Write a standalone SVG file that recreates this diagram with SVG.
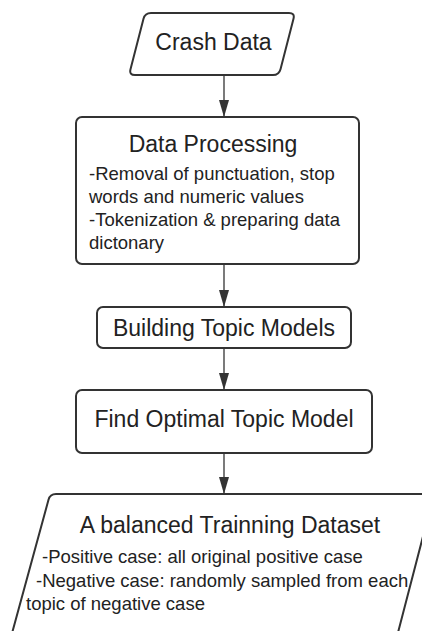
<svg xmlns="http://www.w3.org/2000/svg" width="422" height="631" viewBox="0 0 422 631">
<defs>
<style>
.shape{fill:#fff;stroke:#333;stroke-width:2;}
.t{font-family:"Liberation Sans",Arial,sans-serif;fill:#222;}
.title{font-size:23px;text-anchor:middle;}
.body{font-size:18.5px;}
.conn{stroke:#333;stroke-width:1.3;fill:none;marker-end:url(#arrow);}
</style>
<marker id="arrow" viewBox="0 0 17 10" refX="17" refY="5" markerWidth="17" markerHeight="10" markerUnits="userSpaceOnUse" orient="auto">
<path d="M0,0 L17,5 L0,10 z" fill="#333"/>
</marker>
</defs>
<rect width="422" height="631" fill="#fff"/>
<g id="connectors">
<line class="conn" x1="224" y1="75" x2="224" y2="117"/>
<line class="conn" x1="224" y1="264" x2="224" y2="307"/>
<line class="conn" x1="224" y1="348" x2="224" y2="390"/>
<line class="conn" x1="224" y1="453" x2="224" y2="494"/>
</g>
<g id="crash-data">
<path class="shape" d="M151,13 L289,13 Q295,13 293.5,18.8 L280.5,69.2 Q279,75 273,75 L135,75 Q129,75 130.5,69.2 L143.5,18.8 Q145,13 151,13 Z"/>
<text class="t title" x="213.5" y="50">Crash Data</text>
</g>
<g id="data-processing">
<rect class="shape" x="76" y="117" width="283" height="147" rx="6"/>
<text class="t title" x="213" y="152">Data Processing</text>
<text class="t body" x="89" y="180">-Removal of punctuation, stop</text>
<text class="t body" x="89" y="203">words and numeric values</text>
<text class="t body" x="89" y="226">-Tokenization &amp; preparing data</text>
<text class="t body" x="89" y="249">dictonary</text>
</g>
<g id="building-topic-models">
<rect class="shape" x="97" y="307" width="254" height="41" rx="6"/>
<text class="t title" x="224" y="336">Building Topic Models</text>
</g>
<g id="find-optimal-topic-model">
<rect class="shape" x="76" y="390" width="296" height="63" rx="6"/>
<text class="t title" x="224" y="427">Find Optimal Topic Model</text>
</g>
<g id="balanced-training-dataset">
<path class="shape" d="M56,494 L428,494 Q434,494 432.5,499.8 L394,648 L8,648 L48.5,499.8 Q50,494 56,494 Z"/>
<text class="t title" x="230" y="533">A balanced Trainning Dataset</text>
<text class="t body" x="42" y="563">-Positive case: all original positive case</text>
<text class="t body" x="36" y="587">-Negative case: randomly sampled from each</text>
<text class="t body" x="26" y="610">topic of negative case</text>
</g>
</svg>
